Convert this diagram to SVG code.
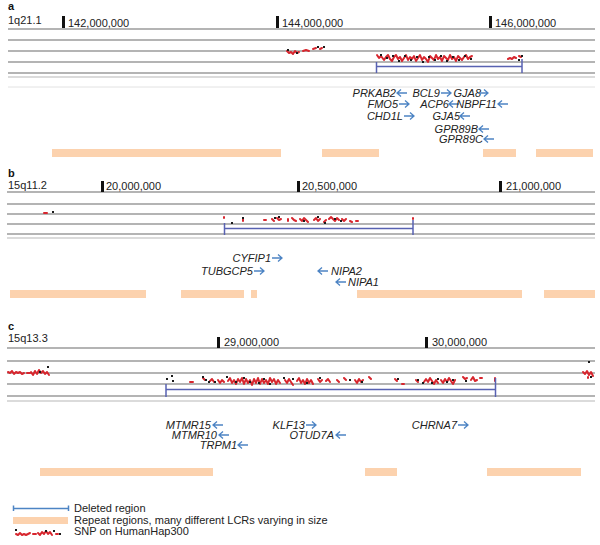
<svg xmlns="http://www.w3.org/2000/svg" xmlns:xlink="http://www.w3.org/1999/xlink" width="600" height="545" viewBox="0 0 600 545">
<style>
.ln{stroke:#9c9c9c;stroke-width:1.3;fill:none}
.ln2{stroke:#cfcfcf;stroke-width:1.3;fill:none}
.ln3{stroke:#e2e2e2;stroke-width:1;fill:none}
.tk{fill:#111}
.lab{font-family:"Liberation Sans",Arial,sans-serif;font-size:11px;fill:#222}
.pl{font-family:"Liberation Sans",Arial,sans-serif;font-size:11px;font-weight:bold;fill:#111}
.gene{font-family:"Liberation Sans",Arial,sans-serif;font-size:11px;font-style:italic;fill:#222}
.rep{fill:#fcd2ae}
.del{stroke:#5862b2;stroke-width:1.5;fill:none}
.arr{stroke:#4d84c4;stroke-width:1.3;fill:none}
.snp{stroke:#d7262e;stroke-width:2;fill:none;stroke-linejoin:round;stroke-linecap:round}
.snpk{fill:#1a1a1a}
</style>
<defs>
<path id="ar" class="arr" d="M0,0h10M6,-3.5L10,0L6,3.5"/>
<path id="al" class="arr" d="M0,0h10M4,-3.5L0,0L4,3.5"/>
</defs>

<!-- Panel a -->
<g id="panel-a-axis">
<text class="pl" x="8" y="10">a</text>
<text class="lab" x="8" y="24">1q21.1</text>
<path class="ln" d="M8,29H595M8,40H595M8,51H595M8,62H595M8,73H595"/>
<path class="ln2" d="M8,77H595"/>
<path class="ln3" d="M8,87H595"/>
<rect class="tk" x="62" y="16" width="3" height="12"/>
<text class="lab" x="68" y="27">142,000,000</text>
<rect class="tk" x="276" y="16" width="3" height="12"/>
<text class="lab" x="282" y="27">144,000,000</text>
<rect class="tk" x="489" y="16" width="3" height="12"/>
<text class="lab" x="495" y="27">146,000,000</text>
</g>
<g id="snp-a">
<path class="snp" d="M287,51L289,53 291,52 293,54 295,51 297,53 299,52M303,51L306,50 309,51M313,49L316,48M320,49L322,48"/>
<path class="snp" d="M377,55L379,58 381,56 384,60 386,57 388,55 390,59 392,61 394,57 396,55 398,59 400,57 402,61 404,58 406,55 408,60 410,57 412,59 414,56 416,61 418,58 420,55 422,60 424,57 426,59 428,62 430,56 432,58 434,60 436,55 438,59 440,57 442,61 444,56 446,58 448,60 450,55 452,59 454,57 456,61 458,56 460,58 462,60 464,57 466,55 468,59 470,57 472,56"/>
<path class="snp" d="M508,59L510,58 512,59 514,57 516,58M519,56L521,57"/>
<path class="snpk" d="M287,49h2v2h-2zM296,52h2v2h-2zM317,46h2v2h-2zM323,46h2v2h-2zM380,54h2v2h-2zM386,57h2v2h-2zM392,55h2v2h-2zM398,60h2v2h-2zM404,55h2v2h-2zM410,59h2v2h-2zM416,56h2v2h-2zM422,61h2v2h-2zM428,56h2v2h-2zM434,59h2v2h-2zM440,55h2v2h-2zM446,60h2v2h-2zM452,56h2v2h-2zM458,59h2v2h-2zM464,55h2v2h-2zM470,58h2v2h-2zM518,59h2v2h-2zM521,55h2v2h-2z"/>
</g>
<g id="del-a"><path class="del" d="M376.5,62V73M376.5,66.5H522M522,59V73"/></g>
<g id="genes-a">
<g id="PRKAB2"><text class="gene" x="396" y="97" text-anchor="end">PRKAB2</text><use xlink:href="#al" x="397" y="93"/></g>
<g id="BCL9"><text class="gene" x="440" y="97" text-anchor="end">BCL9</text><use xlink:href="#ar" x="441" y="93"/></g>
<g id="GJA8"><text class="gene" x="481" y="97" text-anchor="end">GJA8</text><use xlink:href="#ar" x="478" y="93"/></g>
<g id="FMO5"><text class="gene" x="398" y="108" text-anchor="end">FMO5</text><use xlink:href="#ar" x="399" y="104"/></g>
<g id="ACP6"><text class="gene" x="449" y="108" text-anchor="end">ACP6</text><use xlink:href="#al" x="449" y="104"/></g>
<g id="NBPF11"><text class="gene" x="497" y="108" text-anchor="end">NBPF11</text><use xlink:href="#al" x="498" y="104"/></g>
<g id="CHD1L"><text class="gene" x="403" y="120" text-anchor="end">CHD1L</text><use xlink:href="#ar" x="404" y="116"/></g>
<g id="GJA5"><text class="gene" x="460" y="120" text-anchor="end">GJA5</text><use xlink:href="#al" x="460" y="116"/></g>
<g id="GPR89B"><text class="gene" x="478" y="133" text-anchor="end">GPR89B</text><use xlink:href="#al" x="479" y="129"/></g>
<g id="GPR89C"><text class="gene" x="483" y="143" text-anchor="end">GPR89C</text><use xlink:href="#al" x="484" y="139"/></g>
</g>
<g id="repeats-a">
<rect class="rep" x="52" y="149" width="229" height="8"/>
<rect class="rep" x="322" y="149" width="57" height="8"/>
<rect class="rep" x="483" y="149" width="33" height="8"/>
<rect class="rep" x="536" y="149" width="57" height="8"/>
</g>

<!-- Panel b -->
<g id="panel-b-axis">
<text class="pl" x="8" y="177">b</text>
<text class="lab" x="8" y="189">15q11.2</text>
<path class="ln" d="M7,192H595M7,204H595M7,214H595M7,224H595M7,234H595"/>
<path class="ln2" d="M7,238H595"/>
<rect class="tk" x="101" y="181" width="3" height="11"/>
<text class="lab" x="106" y="190">20,000,000</text>
<rect class="tk" x="297" y="181" width="3" height="11"/>
<text class="lab" x="302" y="190">20,500,000</text>
<rect class="tk" x="499" y="181" width="3" height="11"/>
<text class="lab" x="506" y="190">21,000,000</text>
</g>
<g id="snp-b">
<path class="snp" d="M44,213h3M224,217v1M243,219v2M264,220h2M272,219L274,221M277,218L279,220 281,219M288,219v2M292,218L294,220 296,221M300,219L302,221 304,218 306,220 308,222M314,220L316,218 318,221 320,219M324,222L326,220M329,219L331,217 333,219 335,221 337,218 339,220M342,219L344,221 346,219M350,221L352,222M356,221h2M413,218v1"/>
<path class="snpk" d="M52,211h2v2h-2zM231,222h2v2h-2zM242,217h2v2h-2zM274,217h2v2h-2zM278,216h2v2h-2zM303,220h2v2h-2zM317,216h2v2h-2zM324,222h2v2h-2zM334,218h2v2h-2zM340,220h2v2h-2z"/>
</g>
<g id="del-b"><path class="del" d="M224.5,223V235M224.5,228.5H413M413,220V235"/></g>
<g id="genes-b">
<g id="CYFIP1"><text class="gene" x="271" y="262" text-anchor="end">CYFIP1</text><use xlink:href="#ar" x="272" y="258"/></g>
<g id="TUBGCP5"><text class="gene" x="253" y="275" text-anchor="end">TUBGCP5</text><use xlink:href="#ar" x="254" y="271"/></g>
<g id="NIPA2"><use xlink:href="#al" x="318" y="271"/><text class="gene" x="331" y="275">NIPA2</text></g>
<g id="NIPA1"><use xlink:href="#al" x="336" y="282"/><text class="gene" x="348" y="286">NIPA1</text></g>
</g>
<g id="repeats-b">
<rect class="rep" x="10" y="290" width="136" height="8"/>
<rect class="rep" x="181" y="290" width="63" height="8"/>
<rect class="rep" x="251" y="290" width="6" height="8"/>
<rect class="rep" x="357" y="290" width="165" height="8"/>
<rect class="rep" x="544" y="290" width="51" height="8"/>
</g>

<!-- Panel c -->
<g id="panel-c-axis">
<text class="pl" x="8" y="330">c</text>
<text class="lab" x="8" y="342">15q13.3</text>
<path class="ln" d="M7,348H595M7,361H595M7,373H595M7,384H595M7,396H595"/>
<path class="ln2" d="M7,401H595"/>
<rect class="tk" x="217" y="337" width="3" height="11"/>
<text class="lab" x="224" y="346">29,000,000</text>
<rect class="tk" x="425" y="337" width="3" height="11"/>
<text class="lab" x="432" y="346">30,000,000</text>
</g>
<g id="snp-c">
<path class="snp" d="M8,372L10,373 12,371 14,374 16,372 18,373 20,372 22,374 24,373M27,373h3M31,372L33,375 35,371 37,374 39,370 41,373 43,371 45,374 47,372 49,375"/>
<path class="snp" d="M190,382h3M203,378L205,380M210,381L212,379 214,382M218,380L220,383 222,380 224,382M228,381L230,378 232,383 234,380 236,384 238,379 240,382 242,378 244,384 246,379 248,383 250,380 252,385 254,379 256,383 258,378 260,384 262,379 264,383 266,380 268,384 270,378 272,382 274,379 276,384 278,380 280,383M285,380L287,383 289,379 291,382 293,385M297,381L299,378 301,383 303,380 305,384 307,379 309,383 311,380 313,384M318,379L320,382 322,380M326,381L328,379 330,382M337,380L339,382M344,378L346,380M355,380L357,383 359,379 361,382 363,380M369,377L371,379M395,379L397,381M402,384h2M416,380L418,382M424,382L426,379 428,382 430,378 432,381 434,384 436,380 438,383M441,380L443,383 445,379 447,382 449,378 451,381 453,384 455,380M463,377L465,379 467,378M471,380L473,377 475,381 477,380M480,378h2M495,378v3"/>
<path class="snp" d="M583,372L585,374 587,371 589,375 591,372 593,376M588,377v1"/>
<path class="snpk" d="M166,378h2v2h-2zM171,375h2v2h-2zM172,380h2v2h-2zM202,376h2v2h-2zM205,379h2v2h-2zM208,381h2v2h-2zM214,381h2v2h-2zM226,376h2v2h-2zM235,381h2v2h-2zM243,377h2v2h-2zM249,381h2v2h-2zM258,382h2v2h-2zM263,378h2v2h-2zM269,383h2v2h-2zM283,377h2v2h-2zM292,378h2v2h-2zM306,382h2v2h-2zM319,377h2v2h-2zM349,379h2v2h-2zM361,381h2v2h-2zM397,378h2v2h-2zM417,379h2v2h-2zM422,382h2v2h-2zM431,382h2v2h-2zM437,378h2v2h-2zM446,381h2v2h-2zM452,379h2v2h-2zM465,380h2v2h-2zM47,366h2v2h-2zM39,371h2v2h-2zM588,361h2v2h-2zM590,376h2v2h-2z"/>
</g>
<g id="del-c"><path class="del" d="M166,384V397M166,389.5H495.5M495.5,378V397"/></g>
<g id="genes-c">
<g id="MTMR15"><text class="gene" x="211" y="429" text-anchor="end">MTMR15</text><use xlink:href="#al" x="213" y="425"/></g>
<g id="MTMR10"><text class="gene" x="217" y="439" text-anchor="end">MTMR10</text><use xlink:href="#al" x="219" y="435"/></g>
<g id="TRPM1"><text class="gene" x="237" y="449" text-anchor="end">TRPM1</text><use xlink:href="#al" x="238" y="445"/></g>
<g id="KLF13"><text class="gene" x="305" y="429" text-anchor="end">KLF13</text><use xlink:href="#ar" x="306" y="425"/></g>
<g id="OTUD7A"><text class="gene" x="334" y="439" text-anchor="end">OTUD7A</text><use xlink:href="#al" x="336" y="435"/></g>
<g id="CHRNA7"><text class="gene" x="457" y="429" text-anchor="end">CHRNA7</text><use xlink:href="#ar" x="458" y="425"/></g>
</g>
<g id="repeats-c">
<rect class="rep" x="40" y="468" width="173" height="8"/>
<rect class="rep" x="365" y="468" width="32" height="8"/>
<rect class="rep" x="487" y="468" width="94" height="8"/>
</g>

<!-- Legend -->
<g id="legend">
<path class="del" d="M13.5,505.5V511M13.5,508.5H68.5M68.5,505.5V511" style="stroke:#4d84c4"/>
<text class="lab" x="74" y="512">Deleted region</text>
<rect class="rep" x="13" y="517" width="55" height="7"/>
<text class="lab" x="74" y="524">Repeat regions, many different LCRs varying in size</text>
<path class="snp" d="M16,534L18,535 20,533 22,535 24,534 26,535 28,534 30,533M33,534h3M38,533L40,535 42,532 44,534 46,531 48,534 50,532 52,535M56,534h2"/>
<path class="snpk" d="M15,529h2v2h-2zM45,530h2v2h-2zM53,530h2v2h-2zM59,533h2v2h-2z"/>
<text class="lab" x="74" y="535">SNP on HumanHap300</text>
</g>
</svg>
